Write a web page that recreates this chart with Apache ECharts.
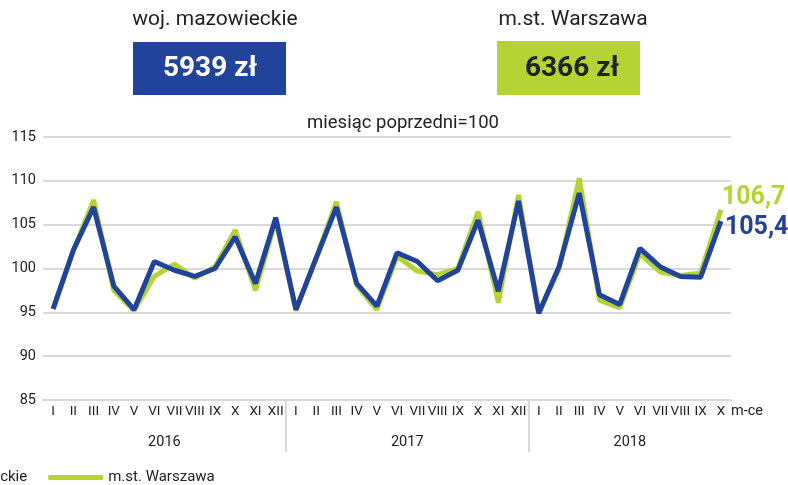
<!DOCTYPE html>
<html>
<head>
<meta charset="utf-8">
<script src="https://cdn.jsdelivr.net/npm/echarts@6/dist/echarts.min.js"></script>
<style>
  html, body { margin: 0; padding: 0; background: #fff; }
  #chart { width: 788px; height: 485px; }
</style>
</head>
<body>
<div id="chart"></div>
<script>
// Months per year (2018 only to October)
const years = ["2016", "2017", "2018"];
const months2016 = ["I", "II", "III", "IV", "V", "VI", "VII", "VIII", "IX", "X", "XI", "XII"];
const months2017 = ["I", "II", "III", "IV", "V", "VI", "VII", "VIII", "IX", "X", "XI", "XII"];
const months2018 = ["I", "II", "III", "IV", "V", "VI", "VII", "VIII", "IX", "X"];

const seriesNames = ["woj. mazowieckie", "m.st. Warszawa"];
const wages = [5939, 6366];

// index, previous month = 100
const mazowieckie = [
  95.4, 102.1, 107.0, 98.0, 95.3, 100.8, 99.8, 99.1, 100.0, 103.6, 98.3, 105.8,
  95.3, 101.2, 107.0, 98.3, 95.7, 101.8, 100.8, 98.6, 99.8, 105.5, 97.4, 107.7,
  94.9, 100.2, 108.6, 97.0, 95.9, 102.3, 100.2, 99.1, 99.0, 105.4
];
const warszawa = [
  95.4, 102.0, 107.8, 97.5, 95.2, 99.1, 100.5, 98.9, 100.2, 104.4, 97.5, 105.5,
  95.2, 101.2, 107.6, 98.1, 95.3, 101.4, 99.7, 99.3, 100.0, 106.5, 96.1, 108.4,
  95.0, 99.9, 110.3, 96.4, 95.5, 101.7, 99.6, 99.2, 99.5, 106.7
];

const blue = "#21449a";
const green = "#b5d334";
const font = "Roboto, sans-serif";

const monthLabels = months2016.concat(months2017, months2018);
const yearLengths = [months2016.length, months2017.length, months2018.length];

// boundary axis for year labels: one slot per month boundary
let yearAxis = new Array(monthLabels.length + 1).fill("");
let yearBounds = [];
let start = 0;
yearLengths.forEach((len, i) => {
  yearAxis[start + Math.round(len / 2)] = years[i];
  start += len;
  if (start < monthLabels.length) yearBounds.push(start);
});

const fmt = (v) => String(v.toFixed(1)).replace(".", ",");

let dom = document.getElementById("chart");
let myChart = echarts.init(dom, null, { renderer: "canvas" });

let option = {
  animation: false,
  textStyle: { fontFamily: font },
  title: [
    { text: seriesNames[0], left: 210, top: 4, textAlign: "center",
      textStyle: { fontSize: 21, fontWeight: "normal", color: "#222", fontFamily: font } },
    { text: seriesNames[1], left: 568, top: 4, textAlign: "center",
      textStyle: { fontSize: 21, fontWeight: "normal", color: "#222", fontFamily: font } },
    { text: "miesiąc poprzedni=100", left: 398, top: 109, textAlign: "center",
      textStyle: { fontSize: 18.5, fontWeight: "normal", color: "#222", fontFamily: font } }
  ],
  graphic: [
    {
      type: "group", left: 133, top: 42,
      children: [
        { type: "rect", shape: { x: 0, y: 0, width: 153, height: 53 }, style: { fill: blue } },
        { type: "text", x: 77, y: 27,
          style: { text: wages[0] + " zł", fill: "#fff", font: "bold 28px " + font,
                   textAlign: "center", textVerticalAlign: "middle" } }
      ]
    },
    {
      type: "group", left: 497, top: 41,
      children: [
        { type: "rect", shape: { x: 0, y: 0, width: 143, height: 54 }, style: { fill: green } },
        { type: "text", x: 75, y: 28,
          style: { text: wages[1] + " zł", fill: "#222", font: "bold 28px " + font,
                   textAlign: "center", textVerticalAlign: "middle" } }
      ]
    }
  ],
  legend: {
    left: -156,
    top: 465,
    itemWidth: 55,
    itemHeight: 5,
    itemGap: 21,
    icon: "roundRect",
    textStyle: { fontSize: 15, color: "#222", fontFamily: font },
    data: seriesNames
  },
  grid: { left: 43, right: 57, top: 137, bottom: 85 },
  xAxis: [
    {
      type: "category",
      data: monthLabels,
      boundaryGap: true,
      axisLine: { lineStyle: { color: "#d9d9d9", width: 2 } },
      axisTick: { show: false },
      axisLabel: { interval: 0, fontSize: 13.5, color: "#222", margin: 5, hideOverlap: false },
      name: "m-ce",
      nameLocation: "end",
      nameGap: -3,
      nameTextStyle: { fontSize: 14.5, color: "#222", verticalAlign: "top", padding: [4, 0, 0, 0] }
    },
    {
      type: "category",
      data: yearAxis,
      boundaryGap: false,
      position: "bottom",
      axisLine: { show: false },
      axisTick: {
        show: true,
        length: 52,
        interval: (i) => yearBounds.includes(i),
        lineStyle: { color: "#d9d9d9", width: 2 }
      },
      axisLabel: { interval: 0, fontSize: 14.5, color: "#222", margin: 35 }
    }
  ],
  yAxis: {
    type: "value",
    min: 85,
    max: 115,
    interval: 5,
    axisLine: { show: false },
    axisTick: { show: false },
    axisLabel: { fontSize: 14.5, color: "#222", margin: 7 },
    splitLine: { lineStyle: { color: "#d9d9d9", width: 2 } }
  },
  series: [
    {
      name: seriesNames[0],
      type: "line",
      data: mazowieckie,
      z: 3,
      symbol: "none",
      lineStyle: { color: blue, width: 5 },
      itemStyle: { color: blue },
      endLabel: {
        show: true,
        formatter: (p) => fmt(p.value),
        color: blue,
        fontSize: 25,
        fontWeight: "bold",
        fontFamily: font,
        distance: 4,
        offset: [0, 7]
      }
    },
    {
      name: seriesNames[1],
      type: "line",
      data: warszawa,
      z: 2,
      symbol: "none",
      lineStyle: { color: green, width: 5 },
      itemStyle: { color: green },
      endLabel: {
        show: true,
        formatter: (p) => fmt(p.value),
        color: green,
        fontSize: 25,
        fontWeight: "bold",
        fontFamily: font,
        distance: 1,
        offset: [0, -12]
      }
    }
  ]
};

if (option && typeof option === "object") {
  myChart.setOption(option);
}
window.addEventListener("resize", myChart.resize);
</script>
</body>
</html>
